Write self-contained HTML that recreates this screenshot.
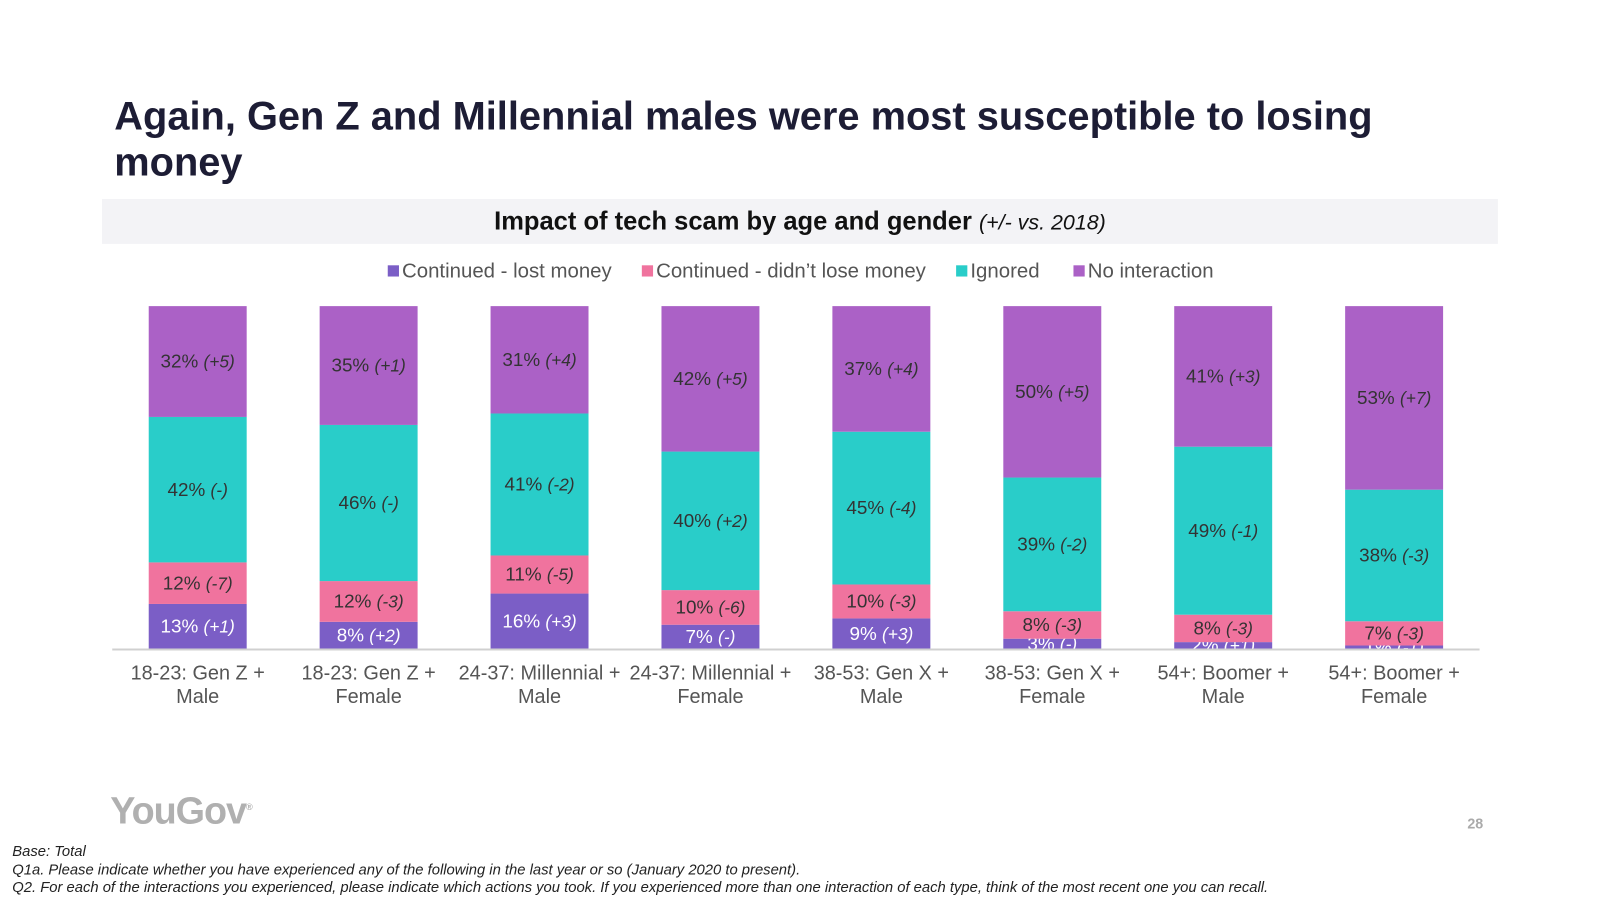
<!DOCTYPE html>
<html><head><meta charset="utf-8"><style>
body{margin:0;width:1600px;height:900px;background:#fff;font-family:"Liberation Sans",Arial,sans-serif;position:relative;overflow:hidden}
#wrap{position:absolute;left:0;top:0;width:1568px;height:882px;transform:scale(1.0204);transform-origin:0 0}
.t{position:absolute;left:112px;top:92px;font-size:39px;font-weight:bold;color:#1d1d35;line-height:45px;width:1300px}
.band{position:absolute;left:100px;top:195px;width:1368px;height:44px;background:#f3f3f6}
.st{position:absolute;left:0;top:203px;width:1568px;text-align:center;font-size:25px;font-weight:bold;color:#111}
.st i{font-weight:normal;font-size:21px}
.foot{position:absolute;left:12px;font-size:14.5px;font-style:italic;color:#222}
</style></head><body>
<div id="wrap">
<div class="t">Again, Gen Z and Millennial males were most susceptible to losing money</div>
<div class="band"></div>
<div class="st">Impact of tech scam by age and gender <i>(+/- vs. 2018)</i></div>
<svg id="ch" width="1568" height="882" style="position:absolute;left:0;top:0"></svg>
<div style="position:absolute;left:108px;top:774px;font-size:37px;font-weight:bold;color:#b0b0b0;letter-spacing:-1px">YouGov<sup style="font-size:9px">®</sup></div>
<div style="position:absolute;left:1438px;top:799px;font-size:14px;font-weight:bold;color:#aaa">28</div>
<div class="foot" style="top:827px">Base: Total</div>
<div class="foot" style="top:845px">Q1a. Please indicate whether you have experienced any of the following in the last year or so (January 2020 to present).</div>
<div class="foot" style="top:862px">Q2. For each of the interactions you experienced, please indicate which actions you took. If you experienced more than one interaction of each type, think of the most recent one you can recall.</div>
</div>
<script>
const categories=[["18-23: Gen Z +","Male"],["18-23: Gen Z +","Female"],["24-37: Millennial +","Male"],["24-37: Millennial +","Female"],["38-53: Gen X +","Male"],["38-53: Gen X +","Female"],["54+: Boomer +","Male"],["54+: Boomer +","Female"]];
const seriesNames=["Continued - lost money","Continued - didn\u2019t lose money","Ignored","No interaction"];
const lostMoney=[13,8,16,7,9,3,2,1];
const didntLose=[12,12,11,10,10,8,8,7];
const ignored=[42,46,41,40,45,39,49,38];
const noInteraction=[32,35,31,42,37,50,41,53];
const lostChg=["+1","+2","+3","-","+3","-","+1","-1"];
const didntChg=["-7","-3","-5","-6","-3","-3","-3","-3"];
const ignoredChg=["-","-","-2","+2","-4","-2","-1","-3"];
const noChg=["+5","+1","+4","+5","+4","+5","+3","+7"];
const colors=["#7b5ec6","#f0739e","#29cdc9","#ab61c6"];
const NS="http://www.w3.org/2000/svg",svg=document.getElementById('ch');
const x0=110,x1=1450,yB=636,yT=300,bw=96;
const cw=(x1-x0)/categories.length;
const xc=i=>x0+cw*(i+0.5);
function mk(t,a,p){const e=document.createElementNS(NS,t);for(const k in a)e.setAttribute(k,a[k]);(p||svg).appendChild(e);return e;}
const series=[lostMoney,didntLose,ignored,noInteraction],chg=[lostChg,didntChg,ignoredChg,noChg];
categories.forEach((c,i)=>{
 const tot=series.reduce((s,a)=>s+a[i],0);let acc=0;
 series.forEach((arr,s)=>{
  const y1=yB-(acc/tot)*(yB-yT);acc+=arr[i];const y2=yB-(acc/tot)*(yB-yT);
  const r=mk('rect',{x:xc(i)-bw/2,y:y2,width:bw,height:y1-y2,fill:colors[s]});
  
  
  const t=mk('text',{x:xc(i),y:(y1+y2)/2+6,'text-anchor':'middle','font-size':18.5,fill:s==0?'#fff':'#333'});
  
  
  t.innerHTML=arr[i]+'% <tspan font-style="italic" font-size="17">('+chg[s][i]+')</tspan>';
 });
 c.forEach((l,k)=>{const t=mk('text',{x:xc(i),y:666+k*23,'text-anchor':'middle','font-size':19.5,fill:'#555'});
  
  
  t.textContent=l;});
});
const ax=mk('line',{x1:x0,x2:x1,y1:yB+0.5,y2:yB+0.5,stroke:'#d0d0d0','stroke-width':2});


const lx=[380,629,937,1052];
seriesNames.forEach((n,s)=>{
 const g=mk('g',{});
 
 
 mk('rect',{x:lx[s],y:260,width:11,height:11,fill:colors[s]},g);
 const t=mk('text',{x:lx[s]+14,y:272,'font-size':20,fill:'#555'},g);t.textContent=n;
});
</script>
</body></html>
